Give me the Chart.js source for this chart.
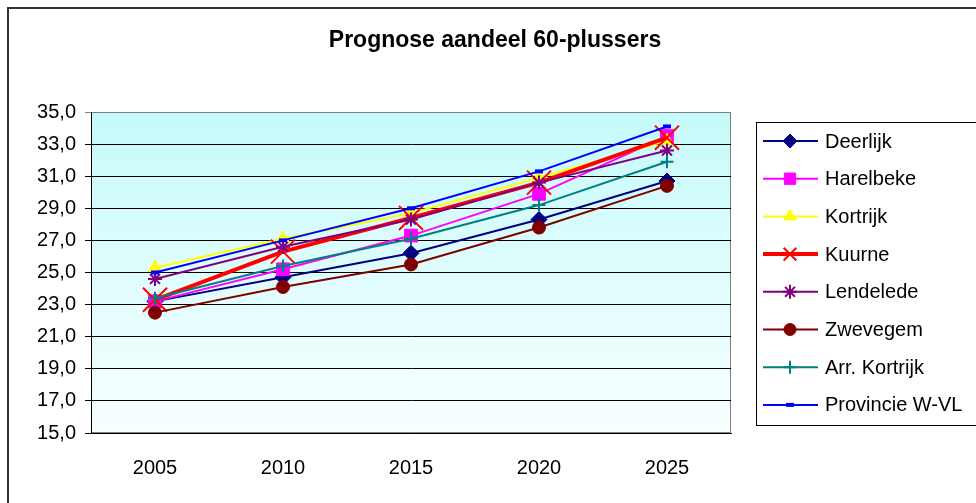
<!DOCTYPE html>
<html>
<head>
<meta charset="utf-8">
<script src="https://cdn.jsdelivr.net/npm/chart.js@4/dist/chart.umd.min.js"></script>
<style>
  html, body { margin: 0; padding: 0; background: #fff; }
  canvas { display: block; }
</style>
</head>
<body>
<canvas id="chart" width="976" height="503"></canvas>
<script>
// data
const years       = ["2005", "2010", "2015", "2020", "2025"];
const deerlijk    = [23.2, 24.7, 26.2, 28.3, 30.7];
const harelbeke   = [23.2, 25.2, 27.3, 29.9, 33.5];
const kortrijk    = [25.3, 27.1, 28.7, 30.9, 33.2];
const kuurne      = [23.3, 26.3, 28.4, 30.6, 33.4];
const lendelede   = [24.6, 26.6, 28.3, 30.6, 32.6];
const zwevegem    = [22.5, 24.1, 25.5, 27.8, 30.4];
const arrKortrijk = [23.4, 25.4, 27.1, 29.2, 31.9];
const provincie   = [25.0, 27.0, 29.0, 31.3, 34.1];
const yTicks      = [15, 17, 19, 21, 23, 25, 27, 29, 31, 33, 35];
const title       = "Prognose aandeel 60-plussers";

const FONT = "'Liberation Sans', Arial, sans-serif";

const series = [
  { label: "Deerlijk",       data: deerlijk,    color: "#000080", width: 2, style: "rectRot",  r: 8,   pbw: 1, lr: 7 },
  { label: "Harelbeke",      data: harelbeke,   color: "#ff00ff", width: 2, style: "rect",     r: 9,   pbw: 1, lr: 8 },
  { label: "Kortrijk",       data: kortrijk,    color: "#ffff00", width: 2, style: "triangle", r: 7.5, pbw: 1, lr: 7 },
  { label: "Kuurne",         data: kuurne,      color: "#ff0000", width: 4, style: "crossRot", r: 17,  pbw: 2, lr: 9 },
  { label: "Lendelede",      data: lendelede,   color: "#800080", width: 2, style: "star",     r: 7,   pbw: 2, lr: 7 },
  { label: "Zwevegem",       data: zwevegem,    color: "#800000", width: 2, style: "circle",   r: 6.5, pbw: 1, lr: 6 },
  { label: "Arr. Kortrijk",  data: arrKortrijk, color: "#008080", width: 2, style: "cross",    r: 6.5, pbw: 2, lr: 6.5 },
  { label: "Provincie W-VL", data: provincie,   color: "#0000ff", width: 2, style: "line",     r: 4,   pbw: 4, lr: 4 },
];

const datasets = series.map((s, i) => ({
  label: s.label,
  data: s.data,
  borderColor: s.color,
  backgroundColor: s.color,
  borderWidth: s.width,
  pointStyle: s.style,
  pointRadius: s.r,
  pointBackgroundColor: s.color,
  pointBorderColor: s.color,
  pointBorderWidth: s.pbw,
  tension: 0,
  order: series.length - 1 - i, // later series on top, like Excel
}));

const frame = {
  id: "frame",
  beforeDraw(chart) {
    const { ctx, chartArea: a } = chart;
    ctx.save();
    ctx.fillStyle = "#fff";
    ctx.fillRect(0, 0, chart.width, chart.height);
    // outer chart border
    ctx.strokeStyle = "#333";
    ctx.lineWidth = 2;
    ctx.strokeRect(8, 8, chart.width + 20, chart.height + 20);
    // plot background
    const g = ctx.createLinearGradient(0, a.top, 0, a.bottom);
    g.addColorStop(0, "#c6fafa");
    g.addColorStop(1, "#f8ffff");
    ctx.fillStyle = g;
    ctx.fillRect(a.left, a.top, a.right - a.left, a.bottom - a.top);
    ctx.strokeStyle = "#808080";
    ctx.lineWidth = 1;
    ctx.strokeRect(a.left + 0.5, a.top + 0.5, a.right - a.left - 1, a.bottom - a.top - 1);
    // title
    ctx.fillStyle = "#000";
    ctx.font = "bold 23px " + FONT;
    ctx.textAlign = "center";
    ctx.textBaseline = "middle";
    ctx.fillText(title, 495, 41);
    ctx.restore();
  },
  afterDraw(chart) {
    const ctx = chart.ctx;
    ctx.save();
    ctx.strokeStyle = "#000";
    ctx.lineWidth = 1;
    ctx.strokeRect(756.5, 122.5, 260, 303);
    ctx.font = "20px " + FONT;
    ctx.textAlign = "left";
    ctx.textBaseline = "middle";
    series.forEach((s, i) => {
      const y = 141 + i * 37.7;
      ctx.strokeStyle = s.color;
      ctx.lineWidth = s.width;
      ctx.beginPath();
      ctx.moveTo(763, y);
      ctx.lineTo(818, y);
      ctx.stroke();
      ctx.fillStyle = s.color;
      ctx.lineWidth = s.pbw;
      Chart.helpers.drawPoint(ctx, { pointStyle: s.style, radius: s.lr, borderWidth: s.pbw, rotation: 0 }, 790, y);
      ctx.fillStyle = "#000";
      ctx.fillText(s.label, 825, y + 1);
    });
    ctx.restore();
  },
};

new Chart(document.getElementById("chart"), {
  type: "line",
  data: { labels: years, datasets },
  plugins: [frame],
  options: {
    responsive: false,
    animation: false,
    events: [],
    layout: { padding: { top: 112, right: 245, left: 0, bottom: 0 } },
    plugins: { legend: { display: false }, title: { display: false }, tooltip: { enabled: false } },
    scales: {
      x: {
        offset: true,
        afterFit: (s) => { s.height = 70; },
        grid: { display: false, drawTicks: false },
        border: { display: true, color: "#000", width: 1 },
        ticks: { color: "#000", font: { family: FONT, size: 20 }, padding: 23, maxRotation: 0 },
      },
      y: {
        min: 15,
        max: 35,
        afterFit: (s) => { s.width = 91; },
        afterBuildTicks: (s) => { s.ticks = yTicks.map((v) => ({ value: v })); },
        grid: { color: (c) => (c.tick && c.tick.value === 35 ? "#808080" : "#000"), lineWidth: 1, tickLength: 6 },
        border: { display: true, color: "#000", width: 1 },
        ticks: {
          color: "#000",
          font: { family: FONT, size: 20 },
          padding: 9,
          callback: (v) => Number(v).toFixed(1).replace(".", ","),
        },
      },
    },
  },
});
</script>
</body>
</html>
